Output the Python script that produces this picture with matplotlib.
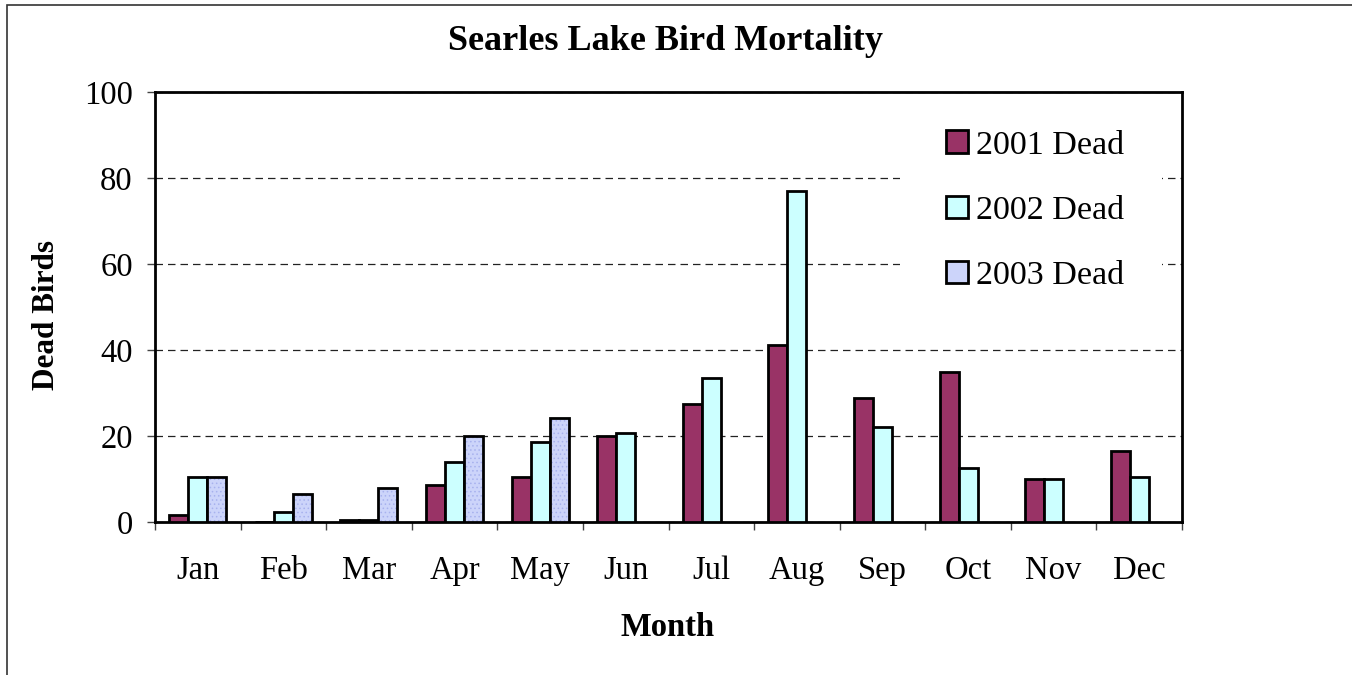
import matplotlib
matplotlib.use("Agg")
import matplotlib.pyplot as plt
import matplotlib.patches as mpatches
import numpy as np

months = ["Jan", "Feb", "Mar", "Apr", "May", "Jun", "Jul", "Aug", "Sep", "Oct", "Nov", "Dec"]
dead_2001 = [1.7, 0, 0.5, 8.5, 10.5, 20, 27.4, 41.1, 28.8, 34.9, 9.9, 16.6]
dead_2002 = [10.5, 2.4, 0.5, 13.9, 18.7, 20.6, 33.6, 77, 22, 12.6, 9.9, 10.5]
dead_2003 = [10.5, 6.4, 7.8, 20, 24.1, np.nan, np.nan, np.nan, np.nan, np.nan, np.nan, np.nan]
series_labels = ["2001 Dead", "2002 Dead", "2003 Dead"]
yticks = [0, 20, 40, 60, 80, 100]

plt.rcParams['font.family'] = ['Liberation Serif', 'DejaVu Serif']

W, H = 1352, 675
fig = plt.figure(figsize=(W / 100, H / 100), dpi=100)
ax = fig.add_axes([155 / W, 1 - 522 / H, (1182 - 155) / W, (522 - 92) / H])

x = np.arange(len(months))
bw = 1 / 4.5
c2001 = "#993366"
c2002 = "#CCFFFF"
c2003 = "#CCD4FA"
lw = 2.0

ax.bar(x - bw, dead_2001, bw, color=c2001, edgecolor="black", linewidth=lw, zorder=3)
ax.bar(x, dead_2002, bw, color=c2002, edgecolor="black", linewidth=lw, zorder=3)
plt.rcParams['hatch.linewidth'] = 0.6
ax.bar(x + bw, dead_2003, bw, color=c2003, edgecolor="#A8B2EE", hatch="....", linewidth=0, zorder=3)
ax.bar(x + bw, dead_2003, bw, fill=False, edgecolor="black", linewidth=lw, zorder=4)

ax.set_xlim(-0.5, 11.5)
ax.set_ylim(0, 100)
ax.set_yticks(yticks)
ax.set_yticklabels([str(v) for v in yticks], fontsize=23.5)
ax.set_xticks(np.arange(-0.5, 12, 1))
ax.set_xticklabels([])
ax.set_xticks(x, minor=True)
ax.set_xticklabels(months, minor=True, fontsize=23.5)
ax.tick_params(axis="x", which="major", direction="out", length=6, width=1, color="#444444")
ax.tick_params(axis="x", which="minor", length=0, pad=24)
ax.tick_params(axis="y", direction="out", length=6, width=1, pad=10, color="#444444")

ax.yaxis.grid(True, color="#222222", linestyle=(0, (6, 4)), linewidth=0.9, zorder=0.5)
ax.set_axisbelow(True)
for s in ax.spines.values():
    s.set_linewidth(2.0)
    s.set_color("black")

# white mask behind the legend (gridlines are interrupted there)
mask = mpatches.Rectangle((900 / W, 1 - 300 / H), (1162 - 900) / W, 200 / H,
                          transform=fig.transFigure, facecolor="white", edgecolor="none", zorder=1)
ax.add_patch(mask)
mask.set_transform(fig.transFigure)

handles = [mpatches.Patch(facecolor=c2001, edgecolor="black", linewidth=2.0),
           mpatches.Patch(facecolor=c2002, edgecolor="black", linewidth=2.0),
           mpatches.Patch(facecolor=c2003, edgecolor="black", linewidth=2.0)]
leg = ax.legend(handles, series_labels, loc="upper left",
                bbox_to_anchor=(946 / W, 1 - 130 / H), bbox_transform=fig.transFigure,
                frameon=False, fontsize=24.5, handlelength=0.64, handleheight=0.64,
                handletextpad=0.25, labelspacing=1.02, borderpad=0, borderaxespad=0)

fig.text(666 / W, 1 - 41 / H, "Searles Lake Bird Mortality", ha="center", va="center",
         fontsize=26, fontweight="bold")
fig.text(47 / W, 1 - 315 / H, "Dead Birds", ha="center", va="center", rotation=90,
         fontsize=22.5, fontweight="bold")
fig.text(668 / W, 1 - 627 / H, "Month", ha="center", va="center", fontsize=23.5, fontweight="bold")

border = mpatches.Rectangle((7 / W, -0.1), 1.2, 1.1 - 5 / H, transform=fig.transFigure,
                            fill=False, edgecolor="#333333", linewidth=1.2, clip_on=False)
fig.patches.append(border)

fig.savefig("out.png", dpi=100, facecolor="white")
